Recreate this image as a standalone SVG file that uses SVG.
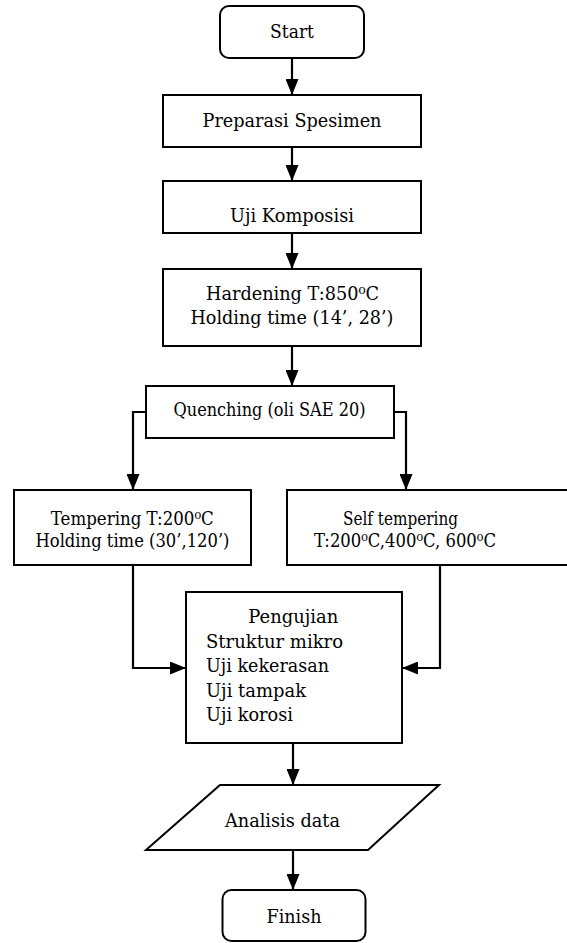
<svg xmlns="http://www.w3.org/2000/svg" width="567" height="943" viewBox="0 0 567 943">
<defs>
<style>
.box{fill:#fff;stroke:#000;stroke-width:2}
.t{font-family:"DejaVu Serif","Liberation Serif",serif;font-size:18px;fill:#000}
.c{text-anchor:middle}
.con{fill:none;stroke:#000;stroke-width:2.2}
</style>
<marker id="ah" markerUnits="userSpaceOnUse" markerWidth="16" markerHeight="13" refX="16" refY="6.5" orient="auto" viewBox="0 0 16 13">
<path d="M0,0 L16,6.5 L0,13 z" fill="#000"/>
</marker>
</defs>
<rect width="567" height="943" fill="#fff"/>
<g id="connectors">
<path class="con" d="M292,58 V95" marker-end="url(#ah)"/>
<path class="con" d="M292,147 V181" marker-end="url(#ah)"/>
<path class="con" d="M292,233 V269" marker-end="url(#ah)"/>
<path class="con" d="M292,346 V386" marker-end="url(#ah)"/>
<path class="con" d="M146,412 H133 V490" marker-end="url(#ah)"/>
<path class="con" d="M394,412 H406 V490" marker-end="url(#ah)"/>
<path class="con" d="M133,565 V668 H186" marker-end="url(#ah)"/>
<path class="con" d="M440,565 V668 H402" marker-end="url(#ah)"/>
<path class="con" d="M293,743 V785" marker-end="url(#ah)"/>
<path class="con" d="M293,850 V890" marker-end="url(#ah)"/>
</g>
<g id="start">
<rect class="box" x="220" y="6" width="144" height="52" rx="9"/>
<text class="t c" x="292" y="38" textLength="44" lengthAdjust="spacingAndGlyphs">Start</text>
</g>
<g id="preparasi">
<rect class="box" x="163" y="95" width="258" height="52"/>
<text class="t c" x="292" y="127" textLength="179" lengthAdjust="spacingAndGlyphs">Preparasi Spesimen</text>
</g>
<g id="komposisi">
<rect class="box" x="163" y="181" width="258" height="52"/>
<text class="t c" x="292" y="222" textLength="124" lengthAdjust="spacingAndGlyphs">Uji Komposisi</text>
</g>
<g id="hardening">
<rect class="box" x="163" y="269" width="258" height="77"/>
<text class="t c" x="292.5" y="300" textLength="173" lengthAdjust="spacingAndGlyphs">Hardening T:850⁰C</text>
<text class="t c" x="292" y="324" textLength="203" lengthAdjust="spacingAndGlyphs">Holding time (14’, 28’)</text>
</g>
<g id="quenching">
<rect class="box" x="146" y="386" width="248" height="52"/>
<text class="t c" x="269.5" y="416" textLength="192" lengthAdjust="spacingAndGlyphs">Quenching (oli SAE 20)</text>
</g>
<g id="tempering">
<rect class="box" x="14" y="490" width="237" height="75"/>
<text class="t c" x="132.3" y="525" textLength="163" lengthAdjust="spacingAndGlyphs">Tempering T:200⁰C</text>
<text class="t c" x="132.5" y="547" textLength="194" lengthAdjust="spacingAndGlyphs">Holding time (30’,120’)</text>
</g>
<g id="self-tempering">
<rect class="box" x="287" y="490" width="283" height="75"/>
<text class="t c" x="400.5" y="525" textLength="115" lengthAdjust="spacingAndGlyphs">Self tempering</text>
<text class="t c" x="405" y="547" textLength="182" lengthAdjust="spacingAndGlyphs">T:200⁰C,400⁰C, 600⁰C</text>
</g>
<g id="pengujian">
<rect class="box" x="186" y="592" width="216" height="151"/>
<text class="t" x="248.3" y="623" textLength="90" lengthAdjust="spacingAndGlyphs">Pengujian</text>
<text class="t" x="206" y="647.5" textLength="137" lengthAdjust="spacingAndGlyphs">Struktur mikro</text>
<text class="t" x="206" y="672" textLength="123" lengthAdjust="spacingAndGlyphs">Uji kekerasan</text>
<text class="t" x="206" y="696.5" textLength="100" lengthAdjust="spacingAndGlyphs">Uji tampak</text>
<text class="t" x="206" y="721" textLength="87" lengthAdjust="spacingAndGlyphs">Uji korosi</text>
</g>
<g id="analisis">
<polygon class="box" points="220,785 439,785 368,850 146,850"/>
<text class="t c" x="282.5" y="827" textLength="115" lengthAdjust="spacingAndGlyphs">Analisis data</text>
</g>
<g id="finish">
<rect class="box" x="222.5" y="890" width="143" height="51" rx="9"/>
<text class="t c" x="294" y="923" textLength="55" lengthAdjust="spacingAndGlyphs">Finish</text>
</g>
</svg>
